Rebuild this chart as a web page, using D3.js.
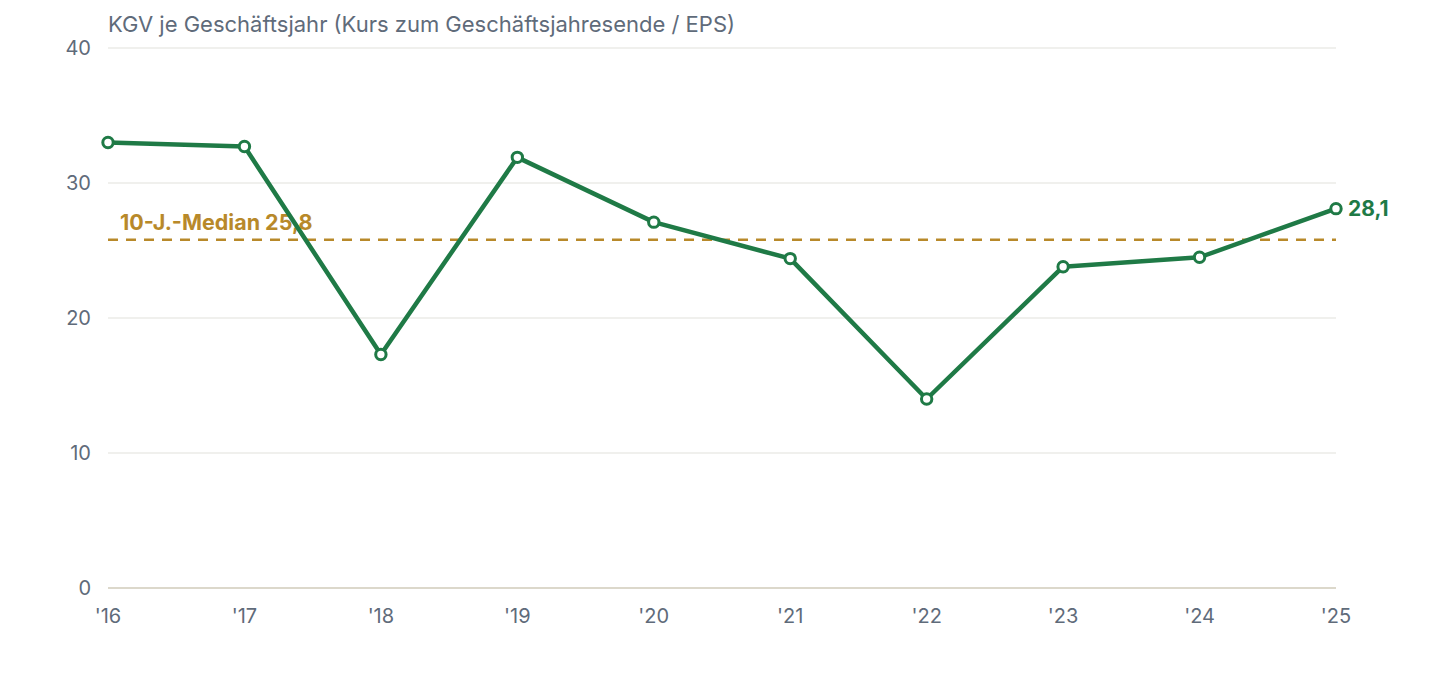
<!DOCTYPE html>
<html>
<head>
<meta charset="utf-8">
<script src="https://cdn.jsdelivr.net/npm/d3@7"></script>
<style>
  body { margin: 0; background: #fff; font-family: Inter, "Noto Sans", sans-serif; }
  #chart svg { display: block; }
</style>
</head>
<body>
<div id="chart"></div>
<script>
// data
const years = ["'16", "'17", "'18", "'19", "'20", "'21", "'22", "'23", "'24", "'25"];
const kgv = [33.0, 32.7, 17.3, 31.9, 27.1, 24.4, 14.0, 23.8, 24.5, 28.1];
const yTicks = [0, 10, 20, 30, 40];
const median = 25.8;
const title = 'KGV je Geschäftsjahr (Kurs zum Geschäftsjahresende / EPS)';

const W = 1440, H = 680;
const margin = { top: 48, right: 104, bottom: 92, left: 108 };
const width = W - margin.left - margin.right;
const height = H - margin.top - margin.bottom;

const green = '#1f7a46';
const gold = '#b8892a';
const grey = '#5f6b7a';
const fmt = (v) => v.toFixed(1).replace('.', ',');

const svg = d3.select('#chart')
  .append('svg')
  .attr('width', W)
  .attr('height', H)
  .append('g')
  .attr('transform', `translate(${margin.left},${margin.top})`);

const x = d3.scalePoint().domain(years).range([0, width]);
const y = d3.scaleLinear().domain([0, 40]).range([height, 0]);

// title
svg.append('text')
  .attr('x', 0)
  .attr('y', -16)
  .attr('fill', grey)
  .style('font-size', '22px')
  .text(title);

// grid lines
svg.selectAll('.grid')
  .data(yTicks)
  .enter()
  .append('line')
  .attr('x1', 0)
  .attr('x2', width)
  .attr('y1', (d) => y(d))
  .attr('y2', (d) => y(d))
  .attr('stroke', (d) => (d === 0 ? '#dcd8cb' : '#ebebe7'))
  .attr('stroke-width', (d) => (d === 0 ? 2 : 1.5));

// y labels
svg.selectAll('.ylab')
  .data(yTicks)
  .enter()
  .append('text')
  .attr('x', -17)
  .attr('y', (d) => y(d))
  .attr('dy', '0.35em')
  .attr('text-anchor', 'end')
  .attr('fill', grey)
  .style('font-size', '20px')
  .text((d) => d);

// x labels
svg.selectAll('.xlab')
  .data(years)
  .enter()
  .append('text')
  .attr('x', (d) => x(d))
  .attr('y', height + 35)
  .attr('text-anchor', 'middle')
  .attr('fill', grey)
  .style('font-size', '20px')
  .text((d) => d);

// median label + line
svg.append('text')
  .attr('x', 12)
  .attr('y', y(median) - 10)
  .attr('fill', gold)
  .style('font-size', '21.5px')
  .style('font-weight', 700)
  .text(`10-J.-Median ${fmt(median)}`);

svg.append('line')
  .attr('x1', 0)
  .attr('x2', width)
  .attr('y1', y(median))
  .attr('y2', y(median))
  .attr('stroke', gold)
  .attr('stroke-width', 2.5)
  .attr('stroke-dasharray', '10,8');

// line
const line = d3.line()
  .x((d, i) => x(years[i]))
  .y((d) => y(d));

svg.append('path')
  .datum(kgv)
  .attr('d', line)
  .attr('fill', 'none')
  .attr('stroke', green)
  .attr('stroke-width', 4.5)
  .attr('stroke-linejoin', 'round');

svg.selectAll('.dot')
  .data(kgv)
  .enter()
  .append('circle')
  .attr('cx', (d, i) => x(years[i]))
  .attr('cy', (d) => y(d))
  .attr('r', 5.2)
  .attr('fill', '#fff')
  .attr('stroke', green)
  .attr('stroke-width', 3);

// end label
const last = kgv.length - 1;
svg.append('text')
  .attr('x', x(years[last]) + 12)
  .attr('y', y(kgv[last]))
  .attr('dy', '0.35em')
  .attr('fill', green)
  .style('font-size', '21px')
  .style('font-weight', 700)
  .text(fmt(kgv[last]));
</script>
</body>
</html>
